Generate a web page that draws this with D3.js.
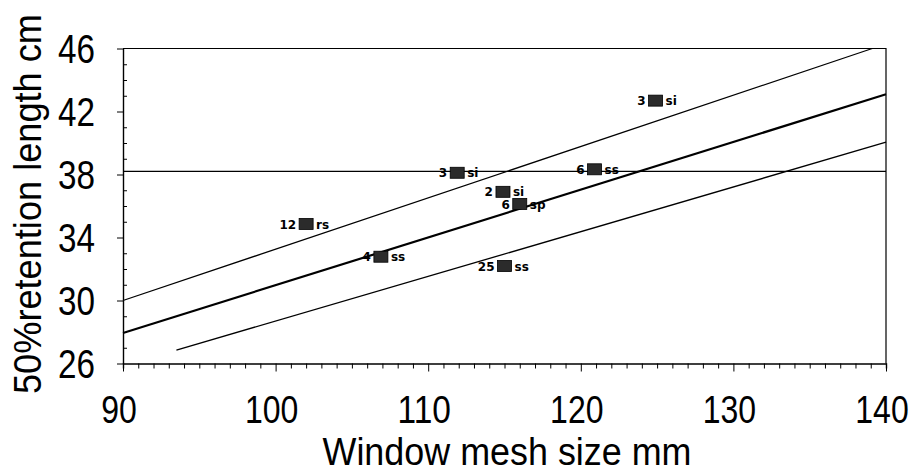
<!DOCTYPE html>
<html>
<head>
<meta charset="utf-8">
<script src="https://cdn.jsdelivr.net/npm/d3@7"></script>
<style>
  body { margin: 0; background: #fff; }
  svg { display: block; }
</style>
</head>
<body>
<div id="chart"></div>
<script>
// data
const meshSize = [102, 106.9, 111.9, 114.9, 116.0, 115.0, 120.9, 124.9];
const retention = [34.86, 32.78, 38.11, 36.9, 36.13, 32.19, 38.33, 42.69];
const countLabel = ["12", "4", "3", "2", "6", "25", "6", "3"];
const typeLabel = ["rs", "ss", "si", "si", "sp", "ss", "ss", "si"];

// fitted line and its bands (end points)
const fitLine = [[90, 27.94], [140, 43.1]];
const upperBand = [[90, 30.0], [139.1, 46]];
const lowerBand = [[93.5, 26.85], [140, 40.05]];
const refLevel = 38.2;

const xTicks = [90, 100, 110, 120, 130, 140];
const yTicks = [26, 30, 34, 38, 42, 46];

const width = 916, height = 469;
const svg = d3.select("#chart").append("svg")
  .attr("width", width)
  .attr("height", height);

const x = d3.scaleLinear().domain([90, 140]).range([123, 886]);
const y = d3.scaleLinear().domain([26, 46]).range([363.5, 48.5]);

const font = "'Liberation Sans', Arial, sans-serif";

// frame (top and right)
svg.append("path")
  .attr("d", `M${x(90)},${y(46)}H${x(140)}V${y(26)}`)
  .attr("fill", "none").attr("stroke", "#000").attr("stroke-width", 1.2);

// x axis
const xAxis = svg.append("g").attr("transform", `translate(0,${y(26)})`);
xAxis.call(d3.axisBottom(x).ticks(50).tickSize(5).tickFormat(""));
xAxis.select(".domain").attr("stroke-width", 1.4);
xAxis.selectAll(".tick line").attr("y2", d => d % 10 === 0 ? 8 : 5);

svg.append("g").selectAll("text").data(xTicks).enter().append("text")
  .attr("x", d => x(d) - 4)
  .attr("y", 423)
  .attr("text-anchor", "middle")
  .attr("textLength", d => String(d).length * 17.8)
  .attr("lengthAdjust", "spacingAndGlyphs")
  .attr("fill", "#000")
  .style("font-family", font).style("font-size", "39px")
  .text(d => d);

// y axis
const yAxis = svg.append("g").attr("transform", `translate(${x(90)},0)`);
yAxis.call(d3.axisLeft(y).ticks(20).tickSize(0).tickFormat(""));
yAxis.select(".domain").attr("stroke-width", 1.4);
yAxis.selectAll(".tick line")
  .attr("x1", d => d % 4 === 2 ? -6 : 0)
  .attr("x2", d => d % 4 === 2 ? 0 : 4);

svg.append("g").selectAll("text").data(yTicks).enter().append("text")
  .attr("x", 95)
  .attr("y", d => y(d))
  .attr("dy", "0.36em")
  .attr("text-anchor", "end")
  .attr("textLength", 37)
  .attr("lengthAdjust", "spacingAndGlyphs")
  .attr("fill", "#000")
  .style("font-family", font).style("font-size", "40px")
  .text(d => d);

// axis titles
svg.append("text")
  .attr("x", 507).attr("y", 465)
  .attr("text-anchor", "middle")
  .attr("textLength", 369)
  .attr("lengthAdjust", "spacingAndGlyphs")
  .style("font-family", font).style("font-size", "38px")
  .text("Window mesh size mm");

svg.append("text")
  .attr("transform", "translate(41,204) rotate(-90)")
  .attr("text-anchor", "middle")
  .attr("textLength", 380)
  .attr("lengthAdjust", "spacingAndGlyphs")
  .style("font-family", font).style("font-size", "38px")
  .text("50%retention length cm");

// reference level
svg.append("line")
  .attr("x1", x(90)).attr("x2", x(140))
  .attr("y1", y(refLevel)).attr("y2", y(refLevel))
  .attr("stroke", "#000").attr("stroke-width", 1.1);

const line = d3.line().x(d => x(d[0])).y(d => y(d[1]));
svg.append("path").datum(upperBand).attr("d", line)
  .attr("fill", "none").attr("stroke", "#000").attr("stroke-width", 1.3);
svg.append("path").datum(lowerBand).attr("d", line)
  .attr("fill", "none").attr("stroke", "#000").attr("stroke-width", 1.3);
svg.append("path").datum(fitLine).attr("d", line)
  .attr("fill", "none").attr("stroke", "#000").attr("stroke-width", 2.2);

// points
const pts = meshSize.map((m, i) => ({m, r: retention[i], n: countLabel[i], t: typeLabel[i]}));
const g = svg.append("g").selectAll("g").data(pts).enter().append("g")
  .attr("transform", d => `translate(${x(d.m)},${y(d.r)})`);
g.append("rect")
  .attr("x", -7).attr("y", -5.5).attr("width", 14).attr("height", 11)
  .attr("fill", "#2b2b2b").attr("stroke", "#000").attr("stroke-width", 0.8);
g.append("text")
  .attr("x", -10).attr("dy", "0.38em")
  .attr("text-anchor", "end")
  .style("font-family", "'DejaVu Sans', sans-serif").style("font-size", "12px").style("font-weight", "bold")
  .text(d => d.n);
g.append("text")
  .attr("x", 10).attr("dy", "0.38em")
  .attr("text-anchor", "start")
  .style("font-family", "'DejaVu Sans', sans-serif").style("font-size", "12px").style("font-weight", "bold")
  .text(d => d.t);
</script>
</body>
</html>
